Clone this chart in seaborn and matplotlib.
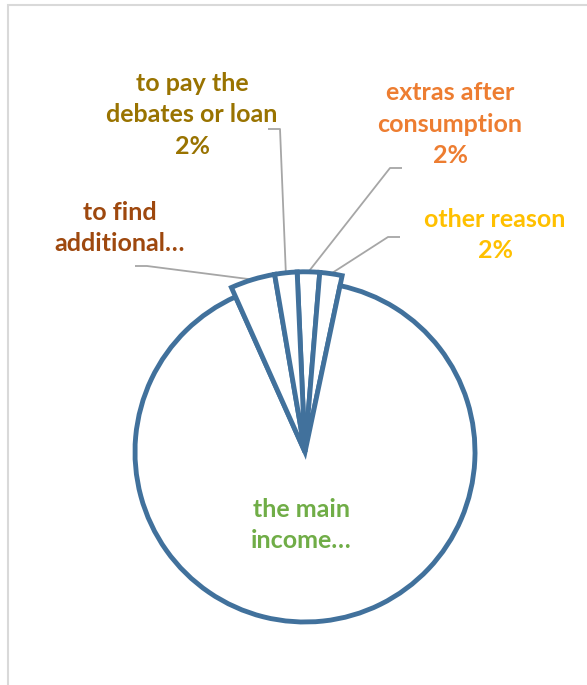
import matplotlib
matplotlib.use("Agg")
import matplotlib.pyplot as plt
from matplotlib.patches import Rectangle
import numpy as np
import seaborn as sns

# Reasons for the household's income, in percent
categories = [
    "extras after consumption",
    "other reason",
    "the main income",
    "to find additional",
    "to pay the debates or loan",
]
shares = [2, 2, 90, 4, 2]
label_texts = [
    "extras after\nconsumption\n2%",
    "other reason\n2%",
    "the main\nincome…",
    "to find\nadditional…",
    "to pay the\ndebates or loan\n2%",
]

label_colors = ["#ED7D31", "#FFC000", "#70AD47", "#9E480E", "#997300"]
edge_color = "#41719C"
leader_color = "#A6A6A6"

sns.set_theme(style="white")
plt.rcParams["font.family"] = ["Lato", "DejaVu Sans"]

W, H, DPI = 587, 685, 100
fig = plt.figure(figsize=(W / DPI, H / DPI), dpi=DPI)
ax = fig.add_axes([0, 0, 1, 1])

# pixel layout: pie centre and radius
CX, CY, R = 305, 452, 170


def to_data(px, py):
    return (px - CX) / R, (CY - py) / R


wedges, _ = ax.pie(
    shares,
    startangle=92.5,
    counterclock=False,
    radius=1.0,
    colors=["white"] * len(shares),
    wedgeprops=dict(edgecolor=edge_color, linewidth=3.5, joinstyle="miter"),
)
# the minor reasons stick out slightly beyond the main slice
for w, v in zip(wedges, shares):
    if v < 50:
        w.set_radius(1.06)

ax.set_xlim(to_data(0, 0)[0], to_data(W, 0)[0])
ax.set_ylim(to_data(0, H)[1], to_data(0, 0)[1])
ax.set_aspect("equal")
ax.axis("off")

# label centres and leader-line anchors (pixels)
label_pos = [(450, 124), (495, 235), (301, 525), (120, 228), (192, 115)]
leader_pts = [
    [(402, 168), (390, 168)],
    [(400, 237), (388, 237)],
    None,
    [(135, 266), (147, 266)],
    [(268, 129), (280, 129)],
]

for w, txt, col, pos, lead in zip(wedges, label_texts, label_colors, label_pos, leader_pts):
    x, y = to_data(*pos)
    ax.text(x, y, txt, ha="center", va="center", color=col, fontsize=18,
            fontweight="bold", linespacing=1.45)
    if lead is not None:
        mid = np.deg2rad((w.theta1 + w.theta2) / 2)
        r = w.r
        tip = (r * np.cos(mid), r * np.sin(mid))
        p0 = to_data(*lead[0])
        p1 = to_data(*lead[1])
        ax.plot([p0[0], p1[0], tip[0]], [p0[1], p1[1], tip[1]],
                color=leader_color, lw=1.3, solid_capstyle="butt", zorder=0.5)

# chart-area frame
fig.add_artist(Rectangle((7.5 / W, -0.1), 2, (H - 5.5) / H + 0.1,
                         transform=fig.transFigure, fill=False,
                         edgecolor="#D9D9D9", linewidth=1.5))

fig.savefig("out.png", dpi=DPI, facecolor="white")
